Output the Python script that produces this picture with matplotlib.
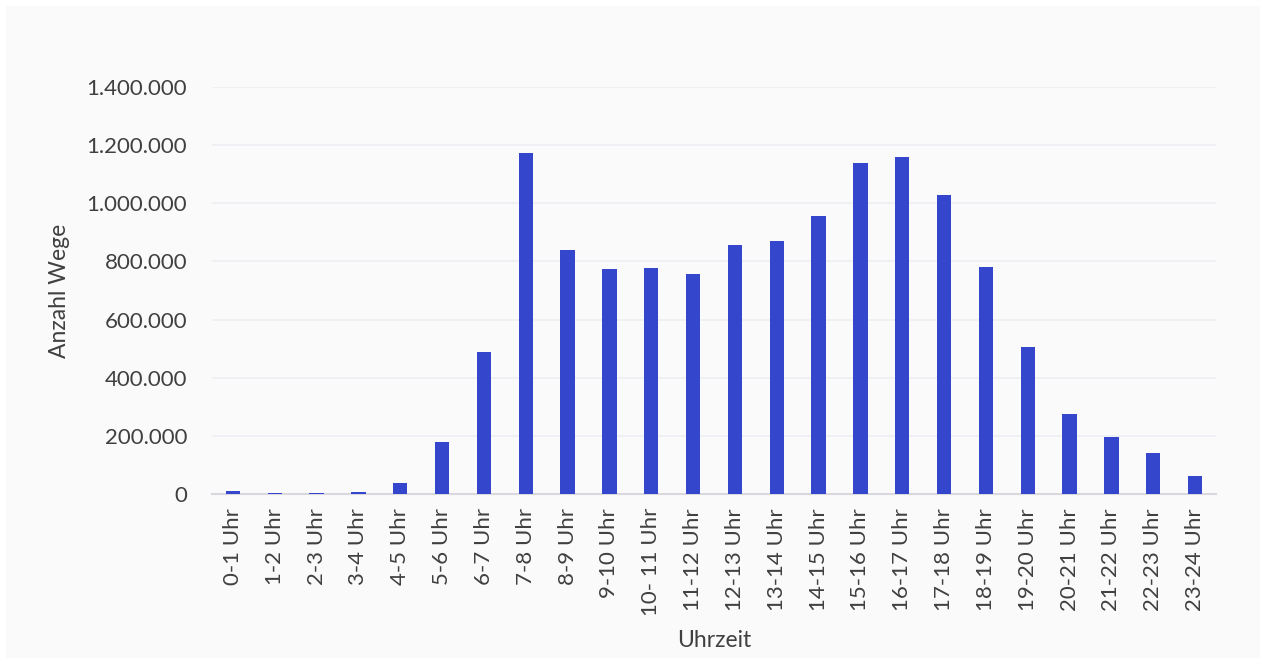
import matplotlib
matplotlib.use("Agg")
import matplotlib.pyplot as plt
from matplotlib.patches import Rectangle
from matplotlib.ticker import FuncFormatter

categories = ["0-1 Uhr", "1-2 Uhr", "2-3 Uhr", "3-4 Uhr", "4-5 Uhr", "5-6 Uhr", "6-7 Uhr",
              "7-8 Uhr", "8-9 Uhr", "9-10 Uhr", "10- 11 Uhr", "11-12 Uhr", "12-13 Uhr",
              "13-14 Uhr", "14-15 Uhr", "15-16 Uhr", "16-17 Uhr", "17-18 Uhr", "18-19 Uhr",
              "19-20 Uhr", "20-21 Uhr", "21-22 Uhr", "22-23 Uhr", "23-24 Uhr"]
values = [10000, 3000, 3000, 7000, 38000, 179000, 488000, 1173000, 839000, 774000, 777000,
          757000, 857000, 870000, 956000, 1139000, 1159000, 1029000, 781000, 506000, 275000,
          196000, 141000, 62000]
yticks = [0, 200000, 400000, 600000, 800000, 1000000, 1200000, 1400000]

plt.rcParams['font.family'] = ['Lato', 'DejaVu Sans']
text_color = "#404040"

fig = plt.figure(figsize=(12.66, 6.64), dpi=100)
fig.patch.set_facecolor("white")
fig.patches.append(Rectangle((6/1266, 6/664), 1 - 12/1266, 1 - 12/664, transform=fig.transFigure,
                             facecolor="#fafafa", edgecolor="none", zorder=-10))

ax = fig.add_axes([212/1266, 1 - 494/664, (1216 - 212)/1266, (494 - 87)/664])
ax.set_facecolor("none")
ax.bar(range(len(categories)), values, width=0.34, color="#3447CC", zorder=3)
ax.set_xlim(-0.5, len(categories) - 0.5)
ax.set_ylim(0, 1400000)
ax.set_yticks(yticks)
ax.yaxis.set_major_formatter(FuncFormatter(lambda v, p: f"{int(v):,}".replace(",", ".")))
ax.set_xticks(range(len(categories)))
ax.set_xticklabels(categories, rotation=90)
ax.grid(axis="y", color="#eceef3", linewidth=1.2, zorder=0)
for s in ["top", "right", "left"]:
    ax.spines[s].set_visible(False)
ax.spines["bottom"].set_color("#d8d8de")
ax.spines["bottom"].set_linewidth(1.5)
ax.tick_params(axis="both", length=0, labelsize=16, colors=text_color)
ax.tick_params(axis="y", pad=18)
ax.tick_params(axis="x", pad=10)
ax.set_ylabel("Anzahl Wege", fontsize=16.5, color=text_color, labelpad=12)
ax.set_xlabel("Uhrzeit", fontsize=16.5, color=text_color, labelpad=10)

fig.savefig("out.png", dpi=100, facecolor=fig.get_facecolor())
